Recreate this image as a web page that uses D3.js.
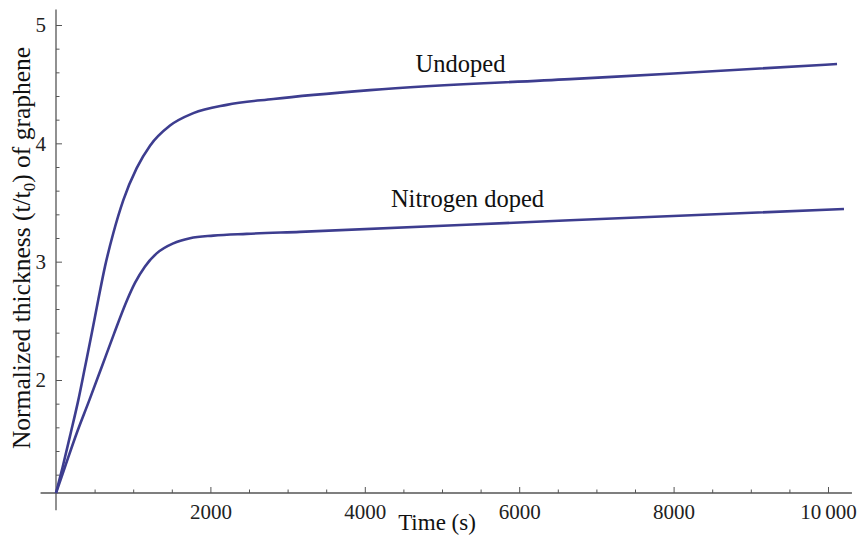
<!DOCTYPE html>
<html>
<head>
<meta charset="utf-8">
<script src="https://cdn.jsdelivr.net/npm/d3@7.9.0/dist/d3.min.js"></script>
<style>
  html, body { margin: 0; padding: 0; background: #fff; }
  svg { display: block; }
  .axis text { font-family: "Liberation Serif", "Times New Roman", serif; fill: #222; }
  .axis line { stroke: #555; }
</style>
</head>
<body>
<div id="chart"></div>
<script>
// Time (s) and normalized thickness
const undopedTime  = [0, 87, 190, 289, 376, 462, 548, 635, 742, 872, 1045, 1218, 1477, 1779, 2211, 2815, 4067, 6658, 8000, 10117];
const undopedValue = [1.045, 1.267, 1.55, 1.83, 2.11, 2.39, 2.68, 2.96, 3.24, 3.52, 3.79, 3.98, 4.15, 4.255, 4.325, 4.375, 4.45, 4.543, 4.59, 4.67];

const dopedTime  = [0, 117, 268, 432, 592, 751, 924, 1023, 1153, 1304, 1520, 1736, 2038, 2470, 3160, 6658, 10207];
const dopedValue = [1.045, 1.267, 1.55, 1.83, 2.11, 2.39, 2.68, 2.82, 2.96, 3.07, 3.155, 3.198, 3.22, 3.235, 3.252, 3.35, 3.445];

const xMajorTicks = [2000, 4000, 6000, 8000, 10000];
const xTickLabels = ['2000', '4000', '6000', '8000', '10\u2009000'];
const yMajorTicks = [2, 3, 4, 5];
const yTickLabels = ['2', '3', '4', '5'];
const yOrigin = 1.045; // where the time axis crosses

const seriesNames = ['Undoped', 'Nitrogen doped'];

const width = 862;
const height = 537;

const svg = d3.select('#chart')
  .append('svg')
  .attr('width', width)
  .attr('height', height);

const x = d3.scaleLinear().domain([0, 10000]).range([56, 828]);
const y = d3.scaleLinear().domain([2, 5]).range([380, 25]);

// minor ticks
const xMinor = d3.range(500, 10001, 500).filter(d => d % 2000 !== 0);
const yMinor = d3.range(1.2, 5.0, 0.2).map(d => +d.toFixed(1)).filter(d => Math.abs(d - Math.round(d)) > 0.01);

// axis lines
svg.append('line')
  .attr('x1', x(-200)).attr('x2', x(10310))
  .attr('y1', y(yOrigin)).attr('y2', y(yOrigin))
  .attr('stroke', '#555').attr('stroke-width', 1.3);
svg.append('line')
  .attr('x1', x(0)).attr('x2', x(0))
  .attr('y1', y(5.13)).attr('y2', y(0.9))
  .attr('stroke', '#555').attr('stroke-width', 1.3);

// x axis
const xAxis = svg.append('g')
  .attr('class', 'axis')
  .attr('transform', `translate(0, ${y(yOrigin)})`)
  .call(d3.axisBottom(x)
    .tickValues(xMajorTicks)
    .tickSize(-6)
    .tickPadding(11)
    .tickFormat((d, i) => xTickLabels[i]));
xAxis.select('.domain').remove();
xAxis.selectAll('text').style('font-size', '21px');

const xAxisMinor = svg.append('g')
  .attr('class', 'axis')
  .attr('transform', `translate(0, ${y(yOrigin)})`)
  .call(d3.axisBottom(x).tickValues(xMinor).tickSize(-3.5).tickFormat(''));
xAxisMinor.select('.domain').remove();

// y axis
const yAxis = svg.append('g')
  .attr('class', 'axis')
  .attr('transform', `translate(${x(0)}, 0)`)
  .call(d3.axisLeft(y)
    .tickValues(yMajorTicks)
    .tickSize(-6)
    .tickPadding(10)
    .tickFormat((d, i) => yTickLabels[i]));
yAxis.select('.domain').remove();
yAxis.selectAll('text').style('font-size', '21px');

const yAxisMinor = svg.append('g')
  .attr('class', 'axis')
  .attr('transform', `translate(${x(0)}, 0)`)
  .call(d3.axisLeft(y).tickValues(yMinor).tickSize(-3.5).tickFormat(''));
yAxisMinor.select('.domain').remove();

// curves
const line = d3.line()
  .x(d => x(d[0]))
  .y(d => y(d[1]))
  .curve(d3.curveMonotoneX);

const series = [
  d3.zip(undopedTime, undopedValue),
  d3.zip(dopedTime, dopedValue),
];

svg.append('g')
  .selectAll('path')
  .data(series)
  .join('path')
  .attr('d', line)
  .attr('fill', 'none')
  .attr('stroke', '#3d3d8f')
  .attr('stroke-width', 2.6)
  .attr('stroke-linejoin', 'round');

// series labels
const labelFont = '"Liberation Serif", "Times New Roman", serif';
svg.append('text')
  .attr('x', x(5240)).attr('y', 72)
  .attr('text-anchor', 'middle')
  .style('font-family', labelFont).style('font-size', '24.5px').attr('fill', '#111')
  .text(seriesNames[0]);
svg.append('text')
  .attr('x', x(5330)).attr('y', 207)
  .attr('text-anchor', 'middle')
  .style('font-family', labelFont).style('font-size', '24.5px').attr('fill', '#111')
  .text(seriesNames[1]);

// axis titles
svg.append('text')
  .attr('x', 437).attr('y', 530)
  .attr('text-anchor', 'middle')
  .style('font-family', labelFont).style('font-size', '23px').attr('fill', '#111')
  .text('Time (s)');

const yTitle = svg.append('text')
  .attr('transform', 'translate(30, 248) rotate(-90)')
  .attr('text-anchor', 'middle')
  .style('font-family', labelFont).style('font-size', '25.5px').attr('fill', '#111');
yTitle.append('tspan').text('Normalized thickness (t/t');
yTitle.append('tspan').attr('dy', 5).style('font-size', '17px').text('0');
yTitle.append('tspan').attr('dy', -5).text(') of graphene');
</script>
</body>
</html>
